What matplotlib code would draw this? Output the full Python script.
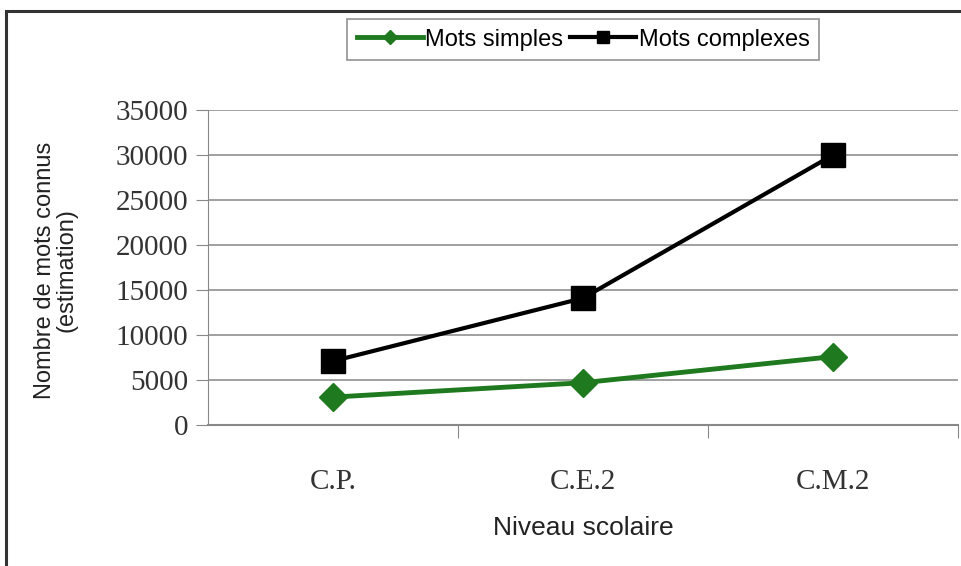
import matplotlib.pyplot as plt
from matplotlib.patches import Rectangle

# Données
niveaux = ['C.P.', 'C.E.2', 'C.M.2']
mots_simples = [3100, 4700, 7600]
mots_complexes = [7100, 14100, 30000]
graduations = [0, 5000, 10000, 15000, 20000, 25000, 30000, 35000]

fig = plt.figure(figsize=(9.62, 5.66), dpi=100)
ax = fig.add_axes([0.2162, 0.2491, 0.7796, 0.5565])

# Cadre extérieur
fig.patches.append(Rectangle((0.006, -0.02), 1.2, 1.0, transform=fig.transFigure,
                             fill=False, edgecolor='#333333', linewidth=2.2))

x = range(len(niveaux))
ax.plot(x, mots_simples, color='#1f7a1f', linewidth=3.5, marker='D',
        markersize=14, label='Mots simples')
ax.plot(x, mots_complexes, color='black', linewidth=3, marker='s',
        markersize=17, label='Mots complexes')

ax.set_xlim(-0.5, 2.5)
ax.set_ylim(0, 35000)
ax.set_yticks(graduations)
ax.set_yticklabels([str(v) for v in graduations], family='Liberation Serif',
                   fontsize=21, color='#333333')
ax.set_xticks([0.5, 1.5, 2.5])
ax.set_xticklabels([])
ax.tick_params(axis='y', length=9, color='#888888', direction='out', pad=5)
ax.tick_params(axis='x', length=9, color='#888888', direction='out')

# Noms des catégories
for i, nom in enumerate(niveaux):
    ax.text(i, -6300, nom, ha='center', va='center', family='Liberation Serif',
            fontsize=21, color='#333333')

ax.grid(axis='y', color='#999999', linewidth=1.3)
ax.set_axisbelow(True)
for side in ['top', 'right']:
    ax.spines[side].set_visible(False)
ax.spines['left'].set_color('#888888')
ax.spines['bottom'].set_color('#888888')
ax.spines['bottom'].set_linewidth(1.5)

fig.text(0.606, 0.068, 'Niveau scolaire', ha='center', va='center',
         family='Liberation Sans', fontsize=19, color='#222222')
fig.text(0.058, 0.522, 'Nombre de mots connus\n(estimation)', ha='center',
         va='center', rotation=90, family='Liberation Sans', fontsize=17,
         color='#222222', linespacing=1.0)

leg = fig.legend(loc='center', bbox_to_anchor=(0.606, 0.930), ncol=2,
                 frameon=True, fancybox=False, edgecolor='#777777',
                 prop={'family': 'Liberation Sans', 'size': 17},
                 handlelength=2.8, columnspacing=0.3, handletextpad=0.1,
                 markerscale=0.5, borderpad=0.4)
leg.get_frame().set_linewidth(1.2)

fig.savefig('out.png', dpi=100)
